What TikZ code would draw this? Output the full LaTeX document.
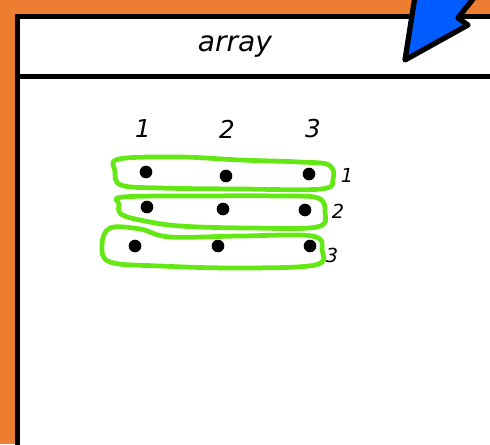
\documentclass[tikz,border=0pt]{standalone}
\usepackage{fontspec}
\setmainfont{DejaVu Sans}
\definecolor{frameorange}{RGB}{237,125,49}
\definecolor{loopgreen}{RGB}{100,232,20}
\definecolor{arrowblue}{RGB}{0,92,255}
\begin{document}
\begin{tikzpicture}[
  x=0.02cm, y=-0.02cm,
  elem/.style={circle, fill=black, minimum size=7.2pt, inner sep=0pt},
  colnum/.style={font=\fontsize{14}{16}\selectfont\itshape},
  rownum/.style={font=\fontsize{11}{13}\selectfont\itshape},
  rowloop/.style={draw=loopgreen, line width=2.7pt, line join=round}
]
  % background and panel
  \fill[frameorange] (0,0) rectangle (490,444);
  \useasboundingbox (0,0) rectangle (490,444);
  \draw[fill=white, line width=3pt] (17.5,16.5) rectangle (500,460);
  \draw[line width=3pt] (17.5,76.5) -- (500,76.5);
  \node[font=\fontsize{16}{19}\selectfont\itshape] (title) at (235,47) {array};
  % arrow in the corner
  \draw[fill=arrowblue, line width=3pt, line join=round]
    (405,60) -- (416,-10) -- (480,-10) -- (458,18) -- (468,25) -- cycle;
  % column and row numbers
  \node[colnum] (c1) at (143,129) {1};
  \node[colnum] (c2) at (227,129) {2};
  \node[colnum] (c3) at (313,129) {3};
  \node[rownum] (r1) at (347,175) {1};
  \node[rownum] (r2) at (338,211) {2};
  \node[rownum] (r3) at (332,255) {3};
  % the elements
  \node[elem] (a11) at (146,172) {};
  \node[elem] (a12) at (226,176) {};
  \node[elem] (a13) at (309,174) {};
  \node[elem] (a21) at (147,207) {};
  \node[elem] (a22) at (223,209) {};
  \node[elem] (a23) at (305,210) {};
  \node[elem] (a31) at (135,246) {};
  \node[elem] (a32) at (218,246) {};
  \node[elem] (a33) at (310,246) {};
  % hand drawn loops round each row
  \draw[rowloop] plot[smooth cycle, tension=0.6] coordinates {
    (119,159) (180,157) (240,160) (300,162) (329,165) (333,179) (321,189)
    (240,189) (160,188) (121,185) (115,171)};
  \draw[rowloop] plot[smooth cycle, tension=0.6] coordinates {
    (123,197) (200,196) (280,196) (318,198) (325,212) (317,227) (250,228)
    (180,226) (140,220) (121,214) (119,204)};
  \draw[rowloop] plot[smooth cycle, tension=0.6] coordinates {
    (110,228) (140,229) (170,237) (240,236) (312,236) (322,250) (315,265)
    (240,268) (160,266) (110,262) (102,245)};
\end{tikzpicture}
\end{document}
